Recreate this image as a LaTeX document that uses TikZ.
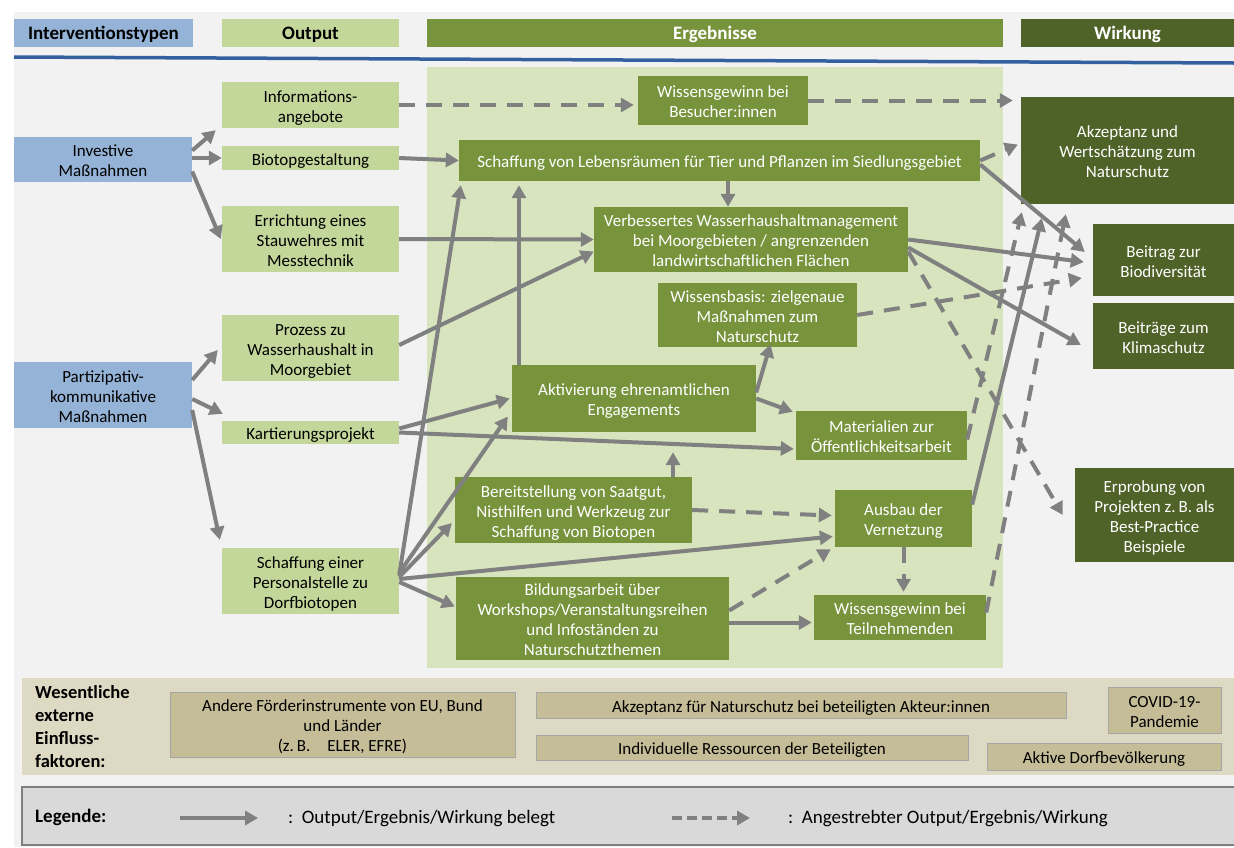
\documentclass[tikz,border=0pt]{standalone}
\usepackage{fontspec}
\setmainfont{Carlito}
\usetikzlibrary{arrows.meta,calc}
\definecolor{bg}{HTML}{F2F2F2}
\definecolor{cblue}{HTML}{95B3D7}
\definecolor{coutput}{HTML}{C4D79B}
\definecolor{cerg}{HTML}{77933C}
\definecolor{cwir}{HTML}{4F6228}
\definecolor{cpanel}{HTML}{D7E4BD}
\definecolor{cline}{HTML}{3560A0}
\definecolor{arrgray}{HTML}{808080}
\definecolor{cband}{HTML}{DDD9C3}
\definecolor{cext}{HTML}{C4BD97}
\definecolor{cextborder}{HTML}{A6A6A6}
\definecolor{cleg}{HTML}{D9D9D9}
\definecolor{clegborder}{HTML}{7F7F7F}
\begin{document}
\begin{tikzpicture}[x=1pt,y=-1pt,
  box/.style={rectangle,inner sep=0pt,align=center,font=\fontsize{17}{20}\selectfont,
    execute at begin node={\rule{0pt}{18pt}},
    execute at end node={\rule[-4pt]{0pt}{4pt}}},
  ltwo/.style={execute at begin node={\rule{0pt}{38pt}}},
  lthree/.style={execute at begin node={\rule{0pt}{58pt}}},
  lfour/.style={execute at begin node={\rule{0pt}{78pt}}},
  hbox/.style={box,font=\fontsize{19}{20}\selectfont\bfseries,minimum height=28pt,
    execute at end node={\rule[-4.5pt]{0pt}{4.5pt}}},
  intv/.style={box,fill=cblue,text=black},
  outp/.style={box,fill=coutput,text=black,minimum width=177pt},
  erg/.style={box,fill=cerg,text=white},
  wir/.style={box,fill=cwir,text=white},
  ext/.style={box,fill=cext,draw=cextborder,line width=1pt},
  arr/.style={draw=arrgray,line width=4pt,-{Triangle[length=13pt,width=14pt]}},
  darr/.style={arr,dash pattern=on 16pt off 11pt},
]
\useasboundingbox (0,0) rectangle (1234,847);
\fill[white] (0,0) rectangle (1234,847);
\fill[bg] (14,12) rectangle (1234,847);

% header
\node[hbox,fill=cblue,text=black,minimum width=179pt] (hInt) at (103.5,33) {Interventionstypen};
\node[hbox,fill=coutput,text=black,minimum width=177pt] (hOut) at (310.5,33) {Output};
\node[hbox,fill=cerg,text=white,minimum width=576pt] (hErg) at (715,33) {Ergebnisse};
\node[hbox,fill=cwir,text=white,minimum width=213pt] (hWir) at (1127.5,33) {Wirkung};
\draw[cline,line width=3.5pt] (14,57) -- (1234,63);

% panel
\fill[cpanel] (427,67) rectangle (1003,668);

% left
\node[intv,ltwo,minimum width=178pt,minimum height=45pt] (inv) at (103,159.5) {Investive\\Maßnahmen};
\node[intv,lthree,minimum width=178pt,minimum height=66pt] (part) at (103,395) {Partizipativ-\\kommunikative\\Maßnahmen};

% output
\node[outp,ltwo,minimum height=46pt] (info) at (310.5,105) {Informations-\\angebote};
\node[outp,minimum height=24pt] (biotop) at (310.5,158) {Biotopgestaltung};
\node[outp,lthree,minimum height=66pt] (errich) at (310.5,239) {Errichtung eines\\Stauwehres mit\\Messtechnik};
\node[outp,lthree,minimum height=66pt] (prozess) at (310.5,348) {Prozess zu\\Wasserhaushalt in\\Moorgebiet};
\node[outp,minimum height=23pt] (kart) at (310.5,432.5) {Kartierungsprojekt};
\node[outp,lthree,minimum height=66pt] (personal) at (310.5,581) {Schaffung einer\\Personalstelle zu\\Dorfbiotopen};

% Ergebnisse
\node[erg,ltwo,minimum width=170pt,minimum height=49pt] (wbes) at (723,100.5) {Wissensgewinn bei\\Besucher:innen};
\node[erg,minimum width=521pt,minimum height=41pt] (schaff) at (719.5,160.5) {Schaffung von Lebensräumen für Tier und Pflanzen im Siedlungsgebiet};
\node[erg,lthree,minimum width=314pt,minimum height=65pt] (verb) at (751,239.5) {Verbessertes Wasserhaushaltmanagement\\bei Moorgebieten / angrenzenden\\landwirtschaftlichen Flächen};
\node[erg,lthree,minimum width=199pt,minimum height=64pt] (wbasis) at (757.5,315) {Wissensbasis: zielgenaue\\Maßnahmen zum\\Naturschutz};
\node[erg,ltwo,minimum width=244pt,minimum height=67pt] (aktiv) at (634,398.5) {Aktivierung ehrenamtlichen\\Engagements};
\node[erg,ltwo,minimum width=171pt,minimum height=49pt] (mat) at (881.5,435.5) {Materialien zur\\Öffentlichkeitsarbeit};
\node[erg,lthree,minimum width=237pt,minimum height=66pt] (bereit) at (573.5,510) {Bereitstellung von Saatgut,\\Nisthilfen und Werkzeug zur\\Schaffung von Biotopen};
\node[erg,ltwo,minimum width=137pt,minimum height=57pt] (ausbau) at (903.5,518.5) {Ausbau der\\Vernetzung};
\node[erg,lfour,minimum width=273pt,minimum height=83pt] (bildung) at (592.5,618.5) {Bildungsarbeit über\\Workshops/Veranstaltungsreihen\\und Infoständen zu\\Naturschutzthemen};
\node[erg,ltwo,minimum width=172pt,minimum height=45pt] (wteil) at (900,617.5) {Wissensgewinn bei\\Teilnehmenden};

% Wirkung
\node[wir,lthree,minimum width=213pt,minimum height=107pt] (akz) at (1127.5,150.5) {Akzeptanz und\\Wertschätzung zum\\Naturschutz};
\node[wir,ltwo,minimum width=141pt,minimum height=72pt] (biodiv) at (1163.5,260) {Beitrag zur\\Biodiversität};
\node[wir,ltwo,minimum width=141pt,minimum height=66pt] (klima) at (1163.5,336) {Beiträge zum\\Klimaschutz};
\node[wir,lfour,minimum width=159pt,minimum height=94pt] (erprob) at (1154.5,515) {Erprobung von\\Projekten z.\,B. als\\Best-Practice\\Beispiele};

% arrows from interventions
\draw[arr] ([yshift=9pt]inv.east) -- ([xshift=-6pt,yshift=-2pt]info.south west);
\draw[arr] ([yshift=1.5pt]inv.east) -- (biotop.west);
\draw[arr] ([yshift=-12pt]inv.east) -- ([xshift=-1pt]errich.west);
\draw[arr] ([yshift=15pt]part.east) -- ([xshift=-4pt,yshift=-2pt]prozess.west);
\draw[arr] ([yshift=-4pt]part.east) -- ([xshift=1pt,yshift=7pt]kart.north west);
\draw[arr] ([yshift=-15pt]part.east) -- ([xshift=-2pt,yshift=8pt]personal.north west);

% outputs -> results
\draw[darr] (info.east) -- ([xshift=-4pt]wbes.west |- info.east);
\draw[darr] (wbes.east) -- ([xshift=-8pt]akz.west |- wbes.east);
\draw[arr] (biotop.east) -- (schaff.west);
\draw[darr] (schaff.east) -- ([xshift=-3pt,yshift=6pt]akz.west);
\draw[arr] ([yshift=-4pt]schaff.east) -- ([xshift=-8pt,yshift=8pt]biodiv.west);
\draw[arr] ([xshift=8.5pt]schaff.south) -- ([xshift=-23pt]verb.north);
\draw[arr] (errich.east) -- (verb.west);
\draw[arr] ([yshift=3pt]prozess.east) -- ([yshift=-12pt]verb.west);

\draw[arr] (verb.east) -- ([xshift=-9pt,yshift=-2pt]biodiv.west);
\draw[arr] ([yshift=-8pt]verb.east) -- ([xshift=-12pt,yshift=-9pt]klima.west);
\draw[darr] ([yshift=-12pt]verb.east) -- ([xshift=-12pt]erprob.west);
\draw[darr] (wbasis.east) -- ([xshift=-11pt,yshift=-18pt]biodiv.west);

\draw[arr] ([xshift=-115pt]aktiv.north) -- ([xshift=-115pt,yshift=-4pt]aktiv.north |- schaff.south);
\draw[arr] ([yshift=6pt]personal.east) -- ([xshift=2pt,yshift=-4pt]schaff.south west);
\draw[arr] ([yshift=4pt]kart.east) -- ([xshift=-2pt]aktiv.west);
\draw[arr] (kart.east) -- ([xshift=-2pt,yshift=-13.5pt]mat.west);
\draw[arr] ([yshift=8pt]personal.east) -- ([xshift=-4pt,yshift=-18pt]aktiv.west);
\draw[arr] ([yshift=4pt]personal.east) -- ([xshift=-3pt,yshift=-13pt]bereit.west);
\draw[arr] ([yshift=2pt]personal.east) -- ([xshift=-2pt,yshift=-18pt]ausbau.west);
\draw[arr] ([yshift=-1pt]personal.east) -- ([xshift=-1pt,yshift=12pt]bildung.west);

\draw[arr] ([yshift=6pt]aktiv.east) -- ([xshift=13pt,yshift=3pt]wbasis.south);
\draw[arr] (aktiv.east) -- ([xshift=-3pt,yshift=-1pt]mat.north west);
\draw[arr] ([xshift=99.5pt]bereit.north) -- ([xshift=99.5pt,yshift=-20pt]bereit.north |- aktiv.south);
\draw[darr] (bereit.east) -- ([xshift=-3pt,yshift=3pt]ausbau.west);
\draw[darr] ([yshift=8pt]bildung.east) -- ([xshift=-4pt,yshift=-2pt]ausbau.south west);
\draw[arr] ([yshift=-4pt]bildung.east) -- ([xshift=-2pt,yshift=-5pt]wteil.west);
\draw[darr] (ausbau.south) -- ([yshift=3pt]ausbau.south |- wteil.north);

\draw[darr] ([yshift=-4pt]mat.east) -- ([xshift=1pt,yshift=-8pt]akz.south west);
\draw[arr] ([yshift=14pt]ausbau.east) -- ([xshift=21pt,yshift=-14pt]akz.south west);
\draw[darr] ([yshift=5pt]wteil.east) -- ([xshift=45pt,yshift=-10pt]akz.south west);

% external factors
\fill[cband] (22,678) rectangle (1234,775);
\node[anchor=west,align=left,inner sep=0pt,font=\fontsize{18.5}{23}\selectfont\bfseries] (extlabel) at (35,726.5) {Wesentliche\\externe\\Einfluss-\\faktoren:};
\node[ext,lthree,minimum width=345pt,minimum height=65pt] (ext1) at (342.5,724.5) {Andere Förderinstrumente von EU, Bund\\und Länder\\(z.\,B.\quad ELER, EFRE)};
\node[ext,minimum width=530pt,minimum height=26pt] (ext2) at (801,705) {Akzeptanz für Naturschutz bei beteiligten Akteur:innen};
\node[ext,minimum width=432pt,minimum height=25pt] (ext3) at (752,747.5) {Individuelle Ressourcen der Beteiligten};
\node[ext,ltwo,minimum width=113pt,minimum height=46pt] (ext4) at (1164.5,710) {COVID-19-\\Pandemie};
\node[ext,minimum width=234pt,minimum height=27pt] (ext5) at (1104,756.5) {Aktive Dorfbevölkerung};

% legend
\draw[fill=cleg,draw=clegborder,line width=1.2pt] (22,787) rectangle (1236,845);
\node[anchor=west,inner sep=0pt,font=\fontsize{19}{20}\selectfont\bfseries] (leglabel) at (35,817) {Legende:};
\coordinate (ls1) at (180,818);
\coordinate (ls2) at (258,818);
\coordinate (ld1) at (672,818);
\coordinate (ld2) at (750,818);
\draw[arr] (ls1) -- (ls2);
\draw[arr,dash pattern=on 10pt off 5pt] (ld1) -- (ld2);
\node[anchor=west,inner sep=0pt,font=\fontsize{19}{20}\selectfont] (legtext1) at (288,818.5) {:\ \ Output/Ergebnis/Wirkung belegt};
\node[anchor=west,inner sep=0pt,font=\fontsize{19}{20}\selectfont] (legtext2) at (788,818.5) {:\ \ Angestrebter Output/Ergebnis/Wirkung};
\end{tikzpicture}
\end{document}
